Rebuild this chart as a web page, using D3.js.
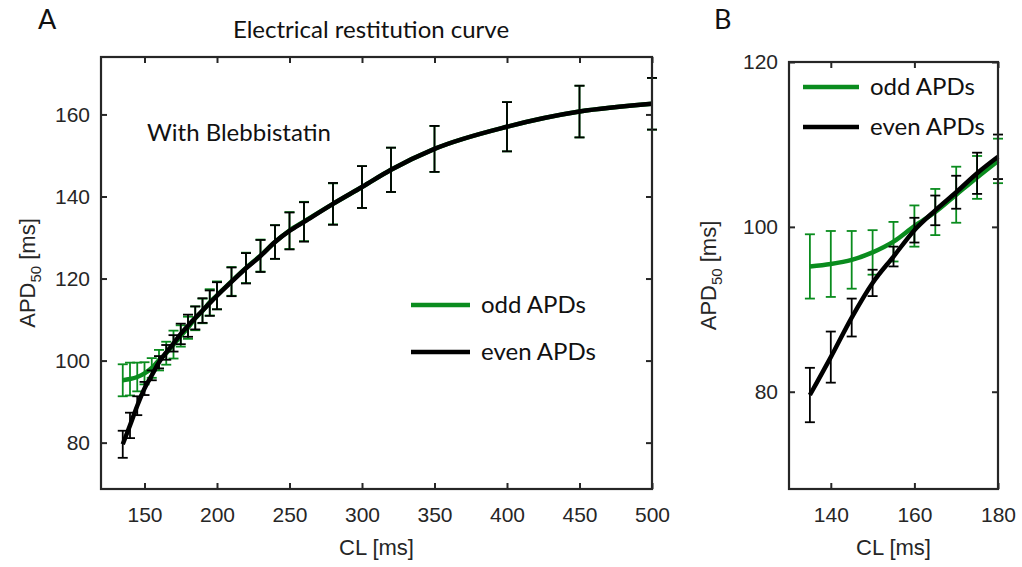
<!DOCTYPE html>
<html>
  <head>
    <meta charset="utf-8">
    <title>Electrical restitution curve</title>
    <script src="https://cdn.jsdelivr.net/npm/d3@7"></script>
    <style type="text/css">
      body { margin: 0; background: #fff; }
      .tick text { font-family: "Liberation Sans", Arial, sans-serif; font-size: 21px; fill: #262626; }
      .calib { font-family: Lato, "Open Sans", sans-serif; }
    </style>
  </head>
  <body>
    <script>
    // data
    var cl = [135,140,145,150,155,160,165,170,175,180,185,190,195,200,210,220,230,240,250,260,280,300,320,350,400,450,500];
    var evenApd = [79.6,84.2,89.0,93.2,96.4,99.6,102.0,104.2,106.5,108.5,110.4,112.2,114.0,115.8,119.2,122.5,125.5,128.9,131.6,133.8,138.2,142.3,146.5,151.6,157.0,160.7,162.6];
    var evenErr = [3.3,3.1,2.3,1.6,1.2,1.5,1.8,2.0,2.5,2.7,2.8,3.0,3.1,3.3,3.5,3.7,3.9,4.1,4.5,4.8,5.1,5.1,5.4,5.6,6.0,6.3,6.3];
    var oddApd = [95.2,95.5,96.0,96.9,98.2,100.1,101.8,103.9,106.0,108.0,110.3,112.1,114.2,115.9,119.3,122.6,125.6,128.9,131.7,133.9,138.2,142.3,146.5,151.6,157.0,160.7,162.6];
    var oddErr = [3.9,4.0,3.5,2.7,2.4,2.5,2.8,3.4,2.6,2.7,2.9,3.0,3.2,3.4,3.5,3.7,3.9,4.1,4.5,4.8,5.0,5.1,5.4,5.6,6.0,6.3,6.3];

    var ticksA_x = [150,200,250,300,350,400,450,500];
    var ticksA_y = [80,100,120,140,160];
    var ticksB_x = [140,160,180];
    var ticksB_y = [80,100,120];

    var green = "#0a8c1e", axisCol = "#262626";

    var svg = d3.select("body").append("svg")
        .attr("width", 1022).attr("height", 567);

    function series(xs, ys, es) {
      return xs.map(function(x, i) { return {x: x, y: ys[i], e: es[i]}; });
    }
    var even = series(cl, evenApd, evenErr);
    var odd = series(cl, oddApd, oddErr);

    function panel(opt) {
      var x = d3.scaleLinear().domain(opt.xdom).range([opt.left, opt.right]);
      var y = d3.scaleLinear().domain(opt.ydom).range([opt.bottom, opt.top]);
      var g = svg.append("g");

      function drawSeries(data, col) {
        var d = data.filter(function(p) { return p.x >= opt.xdom[0] && p.x <= opt.xdom[1]; });
        var eb = g.append("g").attr("stroke", col).attr("stroke-width", 1.8).attr("fill", "none");
        d.forEach(function(p) {
          var cx = x(p.x), y0 = y(p.y - p.e), y1 = y(p.y + p.e);
          eb.append("line").attr("x1", cx).attr("x2", cx).attr("y1", y0).attr("y2", y1);
          eb.append("line").attr("x1", cx - opt.cap).attr("x2", cx + opt.cap).attr("y1", y0).attr("y2", y0);
          eb.append("line").attr("x1", cx - opt.cap).attr("x2", cx + opt.cap).attr("y1", y1).attr("y2", y1);
        });
        g.append("path").datum(d)
          .attr("fill", "none").attr("stroke", col).attr("stroke-width", 4.5)
          .attr("stroke-linejoin", "round")
          .attr("d", d3.line().x(function(p) { return x(p.x); }).y(function(p) { return y(p.y); }).curve(d3.curveMonotoneX));
      }
      drawSeries(odd, green);
      drawSeries(even, "#000");

      // box axes, ticks pointing inward on all four sides
      var tl = 6;
      g.append("g").attr("transform", "translate(0," + opt.bottom + ")")
        .call(d3.axisBottom(x).tickValues(opt.xt).tickSizeInner(-tl).tickSizeOuter(0).tickPadding(18));
      g.append("g").attr("transform", "translate(0," + opt.top + ")")
        .call(d3.axisTop(x).tickValues(opt.xt).tickSizeInner(-tl).tickSizeOuter(0).tickFormat(""));
      g.append("g").attr("transform", "translate(" + opt.left + ",0)")
        .call(d3.axisLeft(y).tickValues(opt.yt).tickSizeInner(-tl).tickSizeOuter(0).tickPadding(11));
      g.append("g").attr("transform", "translate(" + opt.right + ",0)")
        .call(d3.axisRight(y).tickValues(opt.yt).tickSizeInner(-tl).tickSizeOuter(0).tickFormat(""));
      g.selectAll(".domain").remove();
      g.selectAll(".tick line").attr("stroke", axisCol).attr("stroke-width", 2);
      g.append("rect").attr("x", opt.left).attr("y", opt.top)
        .attr("width", opt.right - opt.left).attr("height", opt.bottom - opt.top)
        .attr("fill", "none").attr("stroke", axisCol).attr("stroke-width", 2.2);

      // axis labels
      g.append("text").attr("x", (opt.left + opt.right) / 2).attr("y", 555)
        .attr("text-anchor", "middle").attr("font-family", "Liberation Sans, Arial, sans-serif")
        .attr("font-size", 22).attr("fill", axisCol).text("CL [ms]");
      var yl = g.append("text").attr("transform", "translate(" + opt.ylabX + "," + ((opt.top + opt.bottom) / 2) + ") rotate(-90)")
        .attr("text-anchor", "middle").attr("font-family", "Liberation Sans, Arial, sans-serif")
        .attr("font-size", 22).attr("fill", axisCol);
      yl.append("tspan").text("APD");
      yl.append("tspan").attr("font-size", 15).attr("dy", 6).text("50");
      yl.append("tspan").attr("dy", -6).text(" [ms]");

      // legend
      var lg = opt.legend;
      [[green, "odd APDs"], ["#000", "even APDs"]].forEach(function(it, i) {
        var ly = lg.y + i * lg.gap;
        g.append("line").attr("x1", lg.x).attr("x2", lg.x + lg.len).attr("y1", ly).attr("y2", ly)
          .attr("stroke", it[0]).attr("stroke-width", 4.5);
        g.append("text").attr("class", "calib").attr("x", lg.x + lg.len + 11).attr("y", ly + 8)
          .attr("font-size", 24).attr("fill", "#111").text(it[1]);
      });
      return g;
    }

    panel({xdom: [120, 500], ydom: [68.7, 174], left: 101, right: 652, top: 57, bottom: 489,
           xt: ticksA_x, yt: ticksA_y, cap: 5, ylabX: 35,
           legend: {x: 411, y: 305, len: 59, gap: 47}});
    panel({xdom: [130, 180], ydom: [68.2, 120], left: 789, right: 998, top: 62, bottom: 489,
           xt: ticksB_x, yt: ticksB_y, cap: 5, ylabX: 716,
           legend: {x: 803, y: 87, len: 56, gap: 40}});

    svg.append("text").attr("class", "calib").attr("x", 371).attr("y", 38)
      .attr("text-anchor", "middle").attr("font-size", 24).attr("fill", "#111").text("Electrical restitution curve");
    svg.append("text").attr("class", "calib").attr("x", 147).attr("y", 141)
      .attr("font-size", 24).attr("fill", "#111").text("With Blebbistatin");
    svg.append("text").attr("class", "calib").attr("x", 38).attr("y", 29)
      .attr("font-size", 27).attr("fill", "#111").text("A");
    svg.append("text").attr("class", "calib").attr("x", 714).attr("y", 29)
      .attr("font-size", 27).attr("fill", "#111").text("B");
    </script>
  </body>
</html>
